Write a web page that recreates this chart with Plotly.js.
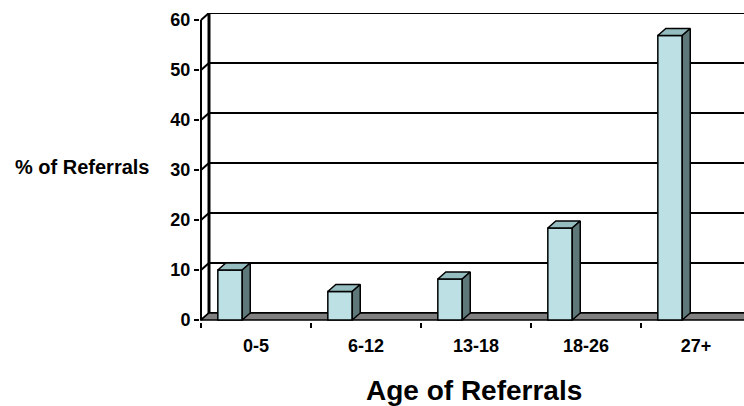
<!DOCTYPE html>
<html><head><meta charset="utf-8">
<script src="https://cdn.plot.ly/plotly-3.0.1.min.js"></script>
<style>html,body{margin:0;padding:0;background:#fff}</style>
</head><body><div id="chart" style="width:744px;height:406px"></div>
<script>
// ---- data ----
const categories = ['0-5', '6-12', '13-18', '18-26', '27+'];
const values = [10, 5.7, 8.2, 18.4, 56.9];
const yTickVals = [0, 10, 20, 30, 40, 50, 60];
const yTickText = ['0', '10', '20', '30', '40', '50', '60'];
const yTitle = '% of Referrals';
const xTitle = 'Age of Referrals';

// ---- geometry / style ----
const W = 744, H = 406, L = 200, T = 13, B = 84, R = 0;
const pxPerX = 110, pxPerY = 5;
const xMin = -0.5 - 1 / pxPerX;
const xMax = xMin + (W - L - R) / pxPerX;
const yMin = -0.4;
const yMax = yMin + (H - T - B) / pxPerY;
const dx = 8 / pxPerX, dy = 7 / pxPerY;
const barOffset = -0.347, barWidth = 0.222;
const FRONT = '#BCE0E4', TOP = '#95BCBF', SIDE = '#5E7879', FLOOR = '#808080';
const FONT = 'Liberation Sans, Arial, sans-serif';
const wallX = -0.5;
const yTop = yTickVals[yTickVals.length - 1];

const xIdx = categories.map((c, i) => i);

const traces = [];
traces.push({
  type: 'bar', x: xIdx, y: values, offset: barOffset, width: barWidth,
  marker: {color: FRONT, line: {color: '#000', width: 1.5}},
  hoverinfo: 'skip'
});
values.forEach((v, i) => {
  const l = xIdx[i] + barOffset, r = l + barWidth;
  traces.push({
    type: 'scatter', mode: 'lines', hoverinfo: 'skip',
    x: [l, l + dx, r + dx, r, l], y: [v, v + dy, v + dy, v, v],
    fill: 'toself', fillcolor: TOP, line: {color: '#000', width: 1.5}
  });
  traces.push({
    type: 'scatter', mode: 'lines', hoverinfo: 'skip',
    x: [r, r + dx, r + dx, r, r], y: [0, dy, v + dy, v, 0],
    fill: 'toself', fillcolor: SIDE, line: {color: '#000', width: 1.5}
  });
});

const shapes = [];
yTickVals.forEach(v => {
  shapes.push({
    type: 'path', xref: 'x', yref: 'y', layer: 'below',
    path: `M ${wallX} ${v} L ${wallX + dx} ${v + dy} L ${xMax + 1} ${v + dy}`,
    line: {color: '#000', width: 2}
  });
});
shapes.push({
  type: 'path', xref: 'x', yref: 'y', layer: 'below',
  path: `M ${wallX + dx} ${dy} L ${wallX + dx} ${yTop + dy}`,
  line: {color: '#000', width: 3}
});
shapes.push({
  type: 'path', xref: 'x', yref: 'y', layer: 'below',
  path: `M ${wallX} 0 L ${wallX + dx} ${dy} L ${xMax + 1} ${dy} L ${xMax + 1} 0 Z`,
  fillcolor: FLOOR, line: {color: '#000', width: 1.5}
});
shapes.push({
  type: 'line', xref: 'x', yref: 'y', layer: 'below',
  x0: wallX, x1: wallX, y0: 0, y1: yTop,
  line: {color: '#000', width: 2}
});

const layout = {
  width: W, height: H,
  margin: {l: L, r: R, t: T, b: B, pad: 0},
  paper_bgcolor: '#fff', plot_bgcolor: '#fff',
  showlegend: false,
  bargap: 0,
  xaxis: {
    range: [xMin, xMax], tickmode: 'array', tickvals: xIdx, ticktext: categories,
    ticks: '', showgrid: false, zeroline: false, showline: false,
    tickfont: {family: FONT, size: 18, color: '#000', weight: 'bold'},
    ticklabelstandoff: 11,
    minor: {tickmode: 'array', tickvals: [-0.5, 0.5, 1.5, 2.5, 3.5, 4.5], ticks: 'outside',
            ticklen: 5, tickwidth: 2, tickcolor: '#000', showgrid: false}
  },
  yaxis: {
    range: [yMin, yMax], tickmode: 'array', tickvals: yTickVals, ticktext: yTickText,
    ticks: 'outside', ticklen: 5, tickwidth: 2, tickcolor: '#000',
    showgrid: false, zeroline: false, showline: false,
    tickfont: {family: FONT, size: 18, color: '#000', weight: 'bold'}
  },
  shapes: shapes,
  annotations: [
    {text: yTitle, xref: 'paper', yref: 'paper', x: (13 - L) / (W - L - R), y: (322 - 167) / (H - T - B),
     xanchor: 'left', yanchor: 'middle', showarrow: false,
     font: {family: FONT, size: 20, color: '#000', weight: 'bold'}},
    {text: xTitle, xref: 'paper', yref: 'paper', x: (474 - L) / (W - L - R), y: (322 - 391) / (H - T - B),
     xanchor: 'center', yanchor: 'middle', showarrow: false,
     font: {family: FONT, size: 28, color: '#000', weight: 'bold'}}
  ]
};

Plotly.newPlot('chart', traces, layout, {staticPlot: true, displayModeBar: false});
</script>
</body></html>
